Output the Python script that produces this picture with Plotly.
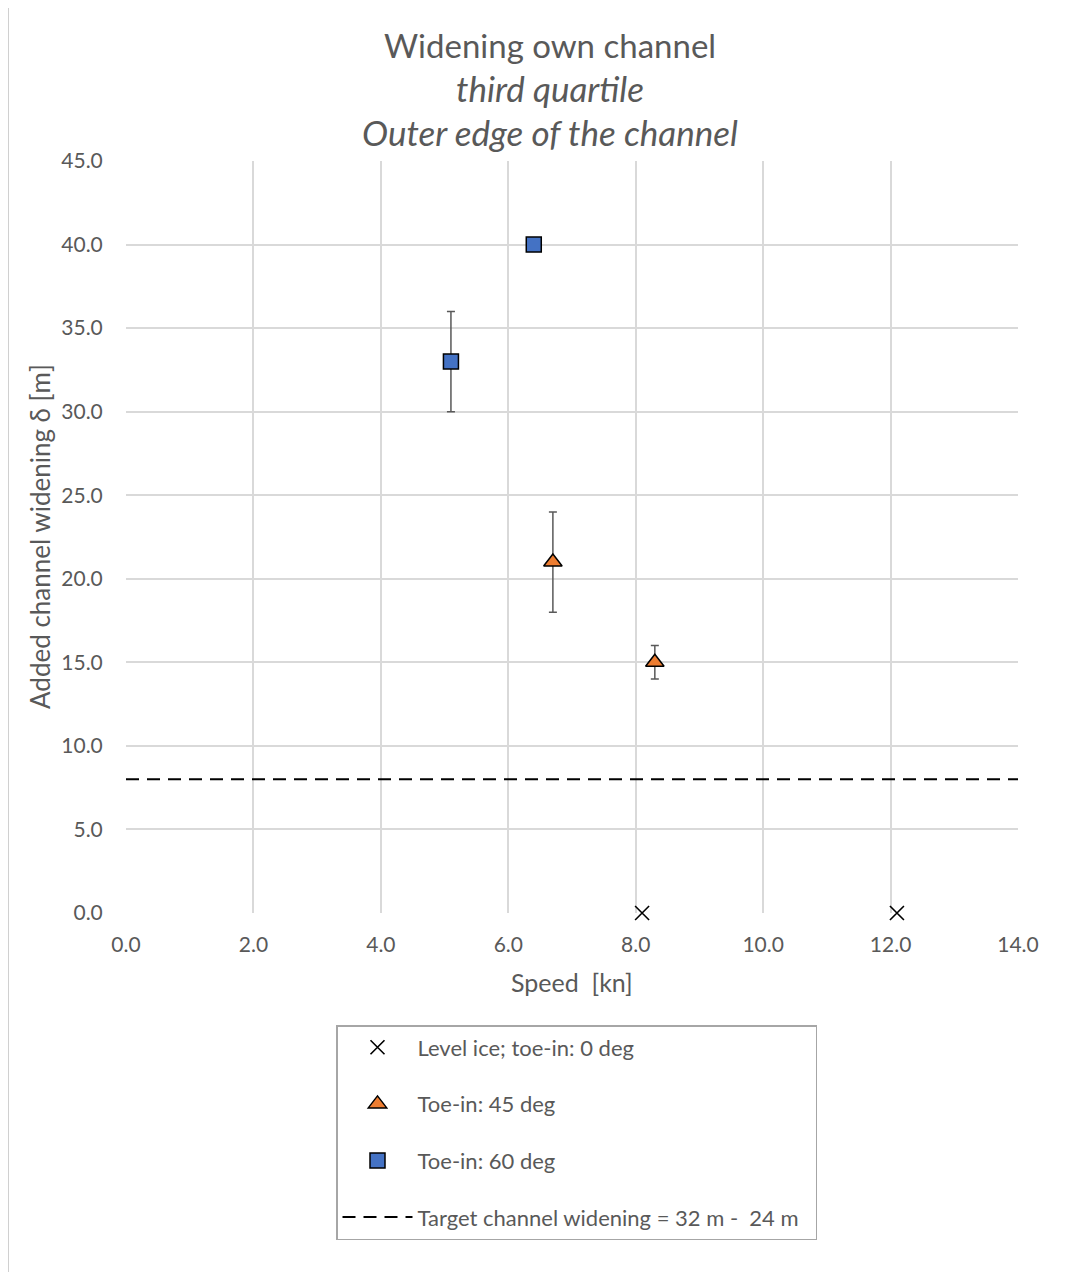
import plotly.graph_objects as go

# Data
level_x = [8.1, 12.1]
level_y = [0.0, 0.0]

toe45_x = [6.7, 8.3]
toe45_y = [21.0, 15.0]
toe45_err_plus = [3.0, 1.0]
toe45_err_minus = [3.0, 1.0]

toe60_x = [5.1, 6.4]
toe60_y = [33.0, 40.0]
toe60_err_plus = [3.0, 0.0]
toe60_err_minus = [3.0, 0.0]

target_x = [0.0, 14.0]
target_y = [8.0, 8.0]

x_ticks = [0, 2, 4, 6, 8, 10, 12, 14]
y_ticks = [0, 5, 10, 15, 20, 25, 30, 35, 40, 45]

FONT = "Lato"
GRAY = "#595959"

# reference pixel geometry of plot area
PL, PR, PT, PB = 126, 1018, 161, 913
PW, PH = PR - PL, PB - PT
OFF = 8  # page body offset


def px(xp):
    return (xp - PL) / PW


def py(yp):
    return (PB - yp) / PH


fig = go.Figure()

fig.add_trace(go.Scatter(
    x=target_x, y=target_y, mode="lines", name="Target channel widening = 32 m -  24 m&nbsp;&nbsp;",
    line=dict(color="black", width=2, dash="13px,8px"),
    legendrank=4, legendgroup="d",
))
fig.add_trace(go.Scatter(
    x=level_x, y=level_y, mode="markers", name="Level ice; toe-in: 0 deg",
    marker=dict(symbol="x-thin", size=14, line=dict(color="black", width=1.6), color="black"),
    cliponaxis=False, legendrank=1, legendgroup="a",
))
fig.add_trace(go.Scatter(
    x=toe45_x, y=toe45_y, mode="markers", name="Toe-in: 45 deg",
    marker=dict(symbol="triangle-up", size=16, color="#ED7D31", line=dict(color="black", width=1.5)),
    error_y=dict(type="data", array=toe45_err_plus, arrayminus=toe45_err_minus,
                 color="#595959", thickness=1.5, width=4),
    legendrank=2, legendgroup="b",
))
fig.add_trace(go.Scatter(
    x=toe60_x, y=toe60_y, mode="markers", name="Toe-in: 60 deg",
    marker=dict(symbol="square", size=15, color="#4472C4", line=dict(color="black", width=1.5)),
    error_y=dict(type="data", array=toe60_err_plus, arrayminus=toe60_err_minus,
                 color="#595959", thickness=1.5, width=4),
    legendrank=3, legendgroup="c",
))

titles = [
    ("Widening own channel", False, 45, 33),
    ("third quartile", True, 88, 35),
    ("Outer edge of the channel", True, 132, 35),
]
annotations = []
for text, ital, ypx, fs in titles:
    annotations.append(dict(
        text=f"<i>{text}</i>" if ital else text,
        xref="paper", yref="paper", x=px(550), y=py(ypx),
        xanchor="center", yanchor="middle", showarrow=False,
        font=dict(family=FONT, size=fs, color=GRAY),
    ))
annotations.append(dict(
    text="Speed  [kn]", xref="paper", yref="paper", x=px(572), y=py(982),
    xanchor="center", yanchor="middle", showarrow=False,
    font=dict(family=FONT, size=25, color=GRAY),
))
annotations.append(dict(
    text="Added channel widening δ [m]", xref="paper", yref="paper", x=px(40), y=py(537),
    xanchor="center", yanchor="middle", showarrow=False, textangle=-90,
    font=dict(family=FONT, size=26, color=GRAY),
))

fig.update_layout(
    width=1088, height=1272,
    margin=dict(l=PL - OFF, r=1088 - (PR - OFF), t=PT - OFF, b=1272 - (PB - OFF), autoexpand=False),
    paper_bgcolor="white", plot_bgcolor="white",
    font=dict(family=FONT, color=GRAY),
    annotations=annotations,
    showlegend=True,
    legend=dict(
        x=px(336), y=py(1025), xanchor="left", yanchor="top",
        bordercolor="#a6a6a6", borderwidth=1.5,
        font=dict(family=FONT, size=22, color=GRAY),
        tracegroupgap=25, itemwidth=70,
        traceorder="grouped",
    ),
    xaxis=dict(
        range=[0, 14], tickvals=x_ticks, ticktext=[f"{v:.1f}" for v in x_ticks],
        showgrid=True, gridcolor="#d9d9d9", gridwidth=1.5, zeroline=False,
        showline=False, ticks="outside", ticklen=13, tickcolor="rgba(0,0,0,0)",
        tickfont=dict(family=FONT, size=21, color=GRAY),
    ),
    yaxis=dict(
        range=[0, 45], tickvals=y_ticks, ticktext=[f"{v:.1f}" for v in y_ticks],
        showgrid=True, gridcolor="#d9d9d9", gridwidth=1.5, zeroline=False,
        showline=False, ticks="outside", ticklen=18, tickcolor="rgba(0,0,0,0)",
        tickfont=dict(family=FONT, size=21, color=GRAY),
    ),
    shapes=[
        dict(type="line", xref="paper", yref="paper",
             x0=px(8), x1=px(1088 + OFF), y0=py(6), y1=py(6),
             line=dict(color="#d0d0d0", width=2), layer="above"),
        dict(type="line", xref="paper", yref="paper",
             x0=px(8), x1=px(8), y0=py(6), y1=py(1272 + OFF),
             line=dict(color="#d0d0d0", width=2), layer="above"),
    ],
)

fig.write_html("out.html")
